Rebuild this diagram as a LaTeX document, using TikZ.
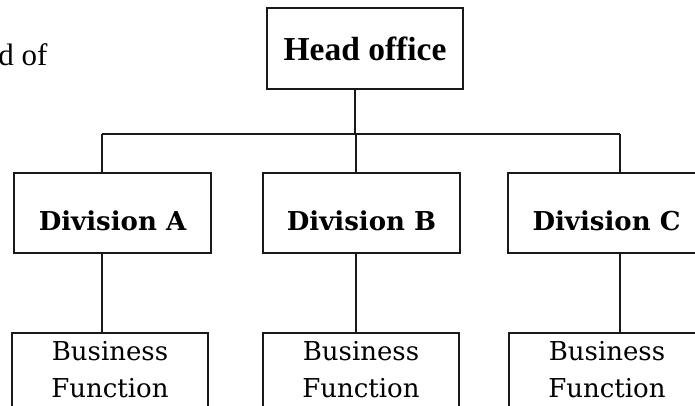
\documentclass[tikz,border=0pt]{standalone}
\usepackage{fontspec}
\setmainfont{Liberation Serif}
\newfontfamily\boxserif{DejaVu Serif}
\begin{document}
\begin{tikzpicture}[x=1pt,y=-1pt,
  line width=2pt,
  every node/.style={inner sep=0pt},
  orgbox/.style={draw=black!90, line width=2pt, minimum width=197pt, minimum height=80pt,
                 font=\boxserif\bfseries\fontsize{26}{30}\selectfont, text height=40pt, text depth=6pt},
  headbox/.style={draw=black!90, line width=2pt, minimum width=196pt, minimum height=81pt,
                  font=\bfseries\fontsize{33.5}{38}\selectfont, text height=26pt, text depth=3pt},
  funcbox/.style={draw=black!90, line width=2pt, anchor=north, text width=196pt, align=center,
                  inner xsep=0pt, inner ysep=8.5pt,
                  font=\boxserif\fontsize{26}{37}\selectfont},
  link/.style={draw=black!90, line width=2pt}]
  \useasboundingbox (0,0) rectangle (695,405);
  \fill[white] (0,0) rectangle (695,405);

  % running text at the left margin
  \node[anchor=base east, font=\fontsize{31}{34}\selectfont] (lead) at (48.5,65) {d of};

  % boxes
  \node[headbox] (hq) at (365,48.5) {Head office};
  \node[orgbox] (divA) at (112.5,213) {Division A};
  \node[orgbox] (divB) at (361.5,213) {Division B};
  \node[orgbox] (divC) at (606.5,213) {Division C};
  \node[funcbox] (bfA) at (110,332) {Business\\Function};
  \node[funcbox] (bfB) at (361,332) {Business\\Function};
  \node[funcbox] (bfC) at (607,332) {Business\\Function};

  % distribution bar
  \coordinate (barH) at (355,134);
  \coordinate (barA) at (102,134);
  \coordinate (barB) at (356,134);
  \coordinate (barC) at (620,134);

  \draw[link] (hq.south -| barH) -- (barH);
  \draw[link] (barA) -- (barC);
  \draw[link] (barA) -- (divA.north -| barA);
  \draw[link] (barB) -- (divB.north -| barB);
  \draw[link] (barC) -- (divC.north -| barC);
  \draw[link] (divA.south -| barA) -- (bfA.north -| barA);
  \draw[link] (divB.south -| barB) -- (bfB.north -| barB);
  \draw[link] (divC.south -| barC) -- (bfC.north -| barC);
\end{tikzpicture}
\end{document}
